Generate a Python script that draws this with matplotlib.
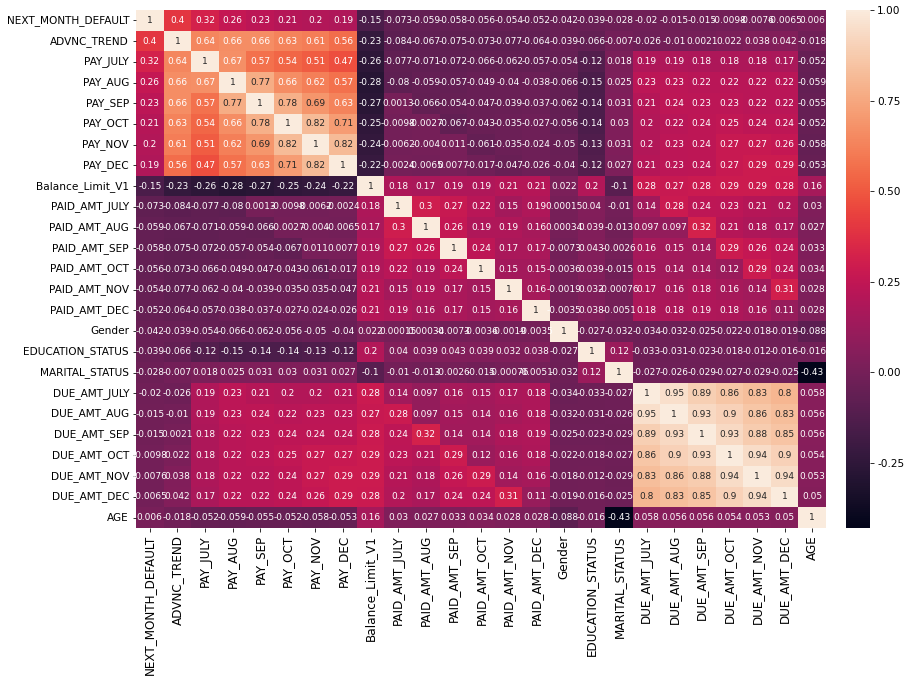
import numpy as np
import pandas as pd
import matplotlib
matplotlib.use("Agg")
import matplotlib.pyplot as plt
import seaborn as sns

labels = ["NEXT_MONTH_DEFAULT", "ADVNC_TREND", "PAY_JULY", "PAY_AUG", "PAY_SEP",
          "PAY_OCT", "PAY_NOV", "PAY_DEC", "Balance_Limit_V1", "PAID_AMT_JULY",
          "PAID_AMT_AUG", "PAID_AMT_SEP", "PAID_AMT_OCT", "PAID_AMT_NOV",
          "PAID_AMT_DEC", "Gender", "EDUCATION_STATUS", "MARITAL_STATUS",
          "DUE_AMT_JULY", "DUE_AMT_AUG", "DUE_AMT_SEP", "DUE_AMT_OCT",
          "DUE_AMT_NOV", "DUE_AMT_DEC", "AGE"]

# lower triangle of the correlation matrix, row by row (diagonal included)
lower = [
    [1],
    [0.4, 1],
    [0.32, 0.64, 1],
    [0.26, 0.66, 0.67, 1],
    [0.23, 0.66, 0.57, 0.77, 1],
    [0.21, 0.63, 0.54, 0.66, 0.78, 1],
    [0.2, 0.61, 0.51, 0.62, 0.69, 0.82, 1],
    [0.19, 0.56, 0.47, 0.57, 0.63, 0.71, 0.82, 1],
    [-0.15, -0.23, -0.26, -0.28, -0.27, -0.25, -0.24, -0.22, 1],
    [-0.073, -0.084, -0.077, -0.08, 0.0013, -0.0098, -0.0062, -0.0024, 0.18, 1],
    [-0.059, -0.067, -0.071, -0.059, -0.066, -0.0027, -0.004, -0.0065, 0.17, 0.3, 1],
    [-0.058, -0.075, -0.072, -0.057, -0.054, -0.067, 0.011, 0.0077, 0.19, 0.27, 0.26, 1],
    [-0.056, -0.073, -0.066, -0.049, -0.047, -0.043, -0.061, -0.017, 0.19, 0.22, 0.19,
     0.24, 1],
    [-0.054, -0.077, -0.062, -0.04, -0.039, -0.035, -0.035, -0.047, 0.21, 0.15, 0.19,
     0.17, 0.15, 1],
    [-0.052, -0.064, -0.057, -0.038, -0.037, -0.027, -0.024, -0.026, 0.21, 0.19, 0.16,
     0.17, 0.15, 0.16, 1],
    [-0.042, -0.039, -0.054, -0.066, -0.062, -0.056, -0.05, -0.04, 0.022, 0.00015,
     0.00034, -0.0073, -0.0036, -0.0019, -0.0035, 1],
    [-0.039, -0.066, -0.12, -0.15, -0.14, -0.14, -0.13, -0.12, 0.2, 0.04, 0.039, 0.043,
     0.039, 0.032, 0.038, -0.027, 1],
    [-0.028, -0.007, 0.018, 0.025, 0.031, 0.03, 0.031, 0.027, -0.1, -0.01, -0.013,
     -0.0026, -0.015, -0.00076, -0.0051, -0.032, 0.12, 1],
    [-0.02, -0.026, 0.19, 0.23, 0.21, 0.2, 0.2, 0.21, 0.28, 0.14, 0.097, 0.16, 0.15,
     0.17, 0.18, -0.034, -0.033, -0.027, 1],
    [-0.015, -0.01, 0.19, 0.23, 0.24, 0.22, 0.23, 0.23, 0.27, 0.28, 0.097, 0.15, 0.14,
     0.16, 0.18, -0.032, -0.031, -0.026, 0.95, 1],
    [-0.015, 0.0021, 0.18, 0.22, 0.23, 0.24, 0.24, 0.24, 0.28, 0.24, 0.32, 0.14, 0.14,
     0.18, 0.19, -0.025, -0.023, -0.029, 0.89, 0.93, 1],
    [-0.0098, 0.022, 0.18, 0.22, 0.23, 0.25, 0.27, 0.27, 0.29, 0.23, 0.21, 0.29, 0.12,
     0.16, 0.18, -0.022, -0.018, -0.027, 0.86, 0.9, 0.93, 1],
    [-0.0076, 0.038, 0.18, 0.22, 0.22, 0.24, 0.27, 0.29, 0.29, 0.21, 0.18, 0.26, 0.29,
     0.14, 0.16, -0.018, -0.012, -0.029, 0.83, 0.86, 0.88, 0.94, 1],
    [-0.0065, 0.042, 0.17, 0.22, 0.22, 0.24, 0.26, 0.29, 0.28, 0.2, 0.17, 0.24, 0.24,
     0.31, 0.11, -0.019, -0.016, -0.025, 0.8, 0.83, 0.85, 0.9, 0.94, 1],
    [0.006, -0.018, -0.052, -0.059, -0.055, -0.052, -0.058, -0.053, 0.16, 0.03, 0.027,
     0.033, 0.034, 0.028, 0.028, -0.088, -0.016, -0.43, 0.058, 0.056, 0.056, 0.054,
     0.053, 0.05, 1],
]
cbar_ticks = [-0.25, 0.0, 0.25, 0.5, 0.75, 1.0]

n = len(labels)
m = np.zeros((n, n))
for i, row in enumerate(lower):
    for j, v in enumerate(row):
        m[i, j] = v
        m[j, i] = v
corr = pd.DataFrame(m, index=labels, columns=labels)

fig = plt.figure(figsize=(917 / 72, 688 / 72), dpi=72)
ax = fig.add_axes([136 / 917, 160 / 688, 690 / 917, 518 / 688])
cax = fig.add_axes([846 / 917, 160 / 688, 24 / 917, 518 / 688])

sns.heatmap(corr, annot=True, fmt=".2g", ax=ax, cbar_ax=cax,
            annot_kws={"size": 9})
ax.tick_params(axis="y", labelsize=10.5)
ax.tick_params(axis="x", labelsize=12)
cax.set_yticks(cbar_ticks)
cax.set_yticklabels([f"{t:.2f}" for t in cbar_ticks])
cax.tick_params(labelsize=10.5)
plt.setp(ax.get_xticklabels(), rotation=90)
plt.setp(ax.get_yticklabels(), rotation=0)

fig.savefig("out.png", dpi=72)
